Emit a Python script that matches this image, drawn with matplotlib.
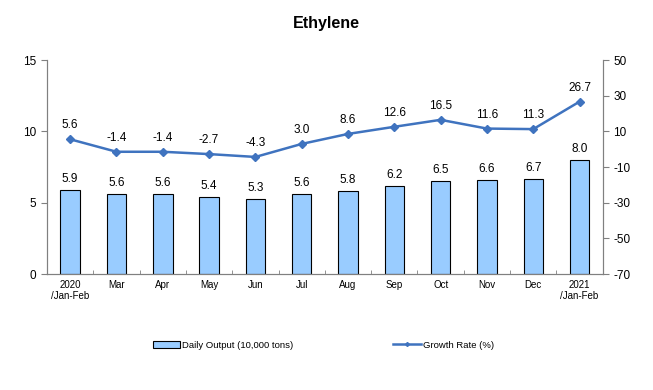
import matplotlib
matplotlib.use("Agg")
import matplotlib.pyplot as plt
import numpy as np

plt.rcParams["font.family"] = ["Liberation Sans", "DejaVu Sans"]
plt.rcParams["axes.unicode_minus"] = False

categories = ["2020\n/Jan-Feb", "Mar", "Apr", "May", "Jun", "Jul", "Aug",
              "Sep", "Oct", "Nov", "Dec", "2021\n/Jan-Feb"]
daily_output = [5.9, 5.6, 5.6, 5.4, 5.3, 5.6, 5.8, 6.2, 6.5, 6.6, 6.7, 8.0]
growth_rate = [5.6, -1.4, -1.4, -2.7, -4.3, 3.0, 8.6, 12.6, 16.5, 11.6, 11.3, 26.7]

bar_color = "#99CCFF"
line_color = "#3F73BF"
spine_color = "#808080"

fig = plt.figure(figsize=(6.53, 3.90), dpi=100)
ax = fig.add_axes([0.072, 0.297, 0.851, 0.549])
ax2 = ax.twinx()

x = np.arange(len(categories))
bars = ax.bar(x, daily_output, width=0.42, color=bar_color, edgecolor="black",
              linewidth=0.8, label="Daily Output (10,000 tons)")
for xi, v in zip(x, daily_output):
    ax.text(xi, v + 0.35, f"{v:.1f}", ha="center", va="bottom", fontsize=8.5)

line, = ax2.plot(x, growth_rate, color=line_color, marker="D", markersize=4,
                 linewidth=1.8, label="Growth Rate (%)")
for xi, v in zip(x, growth_rate):
    ax2.text(xi, v + 4.5, f"{v:.1f}", ha="center", va="bottom", fontsize=8.5)

ax.set_xlim(-0.5, len(categories) - 0.5)
ax.set_ylim(0, 15)
ax.set_yticks([0, 5, 10, 15])
ax2.set_ylim(-70, 50)
ax2.set_yticks([-70, -50, -30, -10, 10, 30, 50])

ax.set_xticks(x)
ax.set_xticklabels(categories, fontsize=7)
ax.set_xticks(np.arange(-0.5, len(categories)), minor=True)
ax.tick_params(axis="x", which="major", length=0, pad=4)
ax.tick_params(axis="x", which="minor", length=3, direction="in", color=spine_color)
ax.tick_params(axis="y", labelsize=8.5, length=4, color=spine_color)
ax2.tick_params(axis="y", labelsize=8.5, length=4, color=spine_color)

for a in (ax, ax2):
    a.spines["top"].set_visible(False)
    for s in ("left", "right", "bottom"):
        a.spines[s].set_color(spine_color)

fig.text(0.5, 0.94, "Ethylene", ha="center", va="center", fontsize=11.5, fontweight="bold")

fig.legend([bars, line], ["Daily Output (10,000 tons)", "Growth Rate (%)"],
           loc="center", bbox_to_anchor=(0.495, 0.115), ncol=2, frameon=False,
           fontsize=6.8, columnspacing=10.6, handlelength=2.9, handletextpad=0.2,
           markerscale=0.5)

fig.savefig("out.png", dpi=100)
